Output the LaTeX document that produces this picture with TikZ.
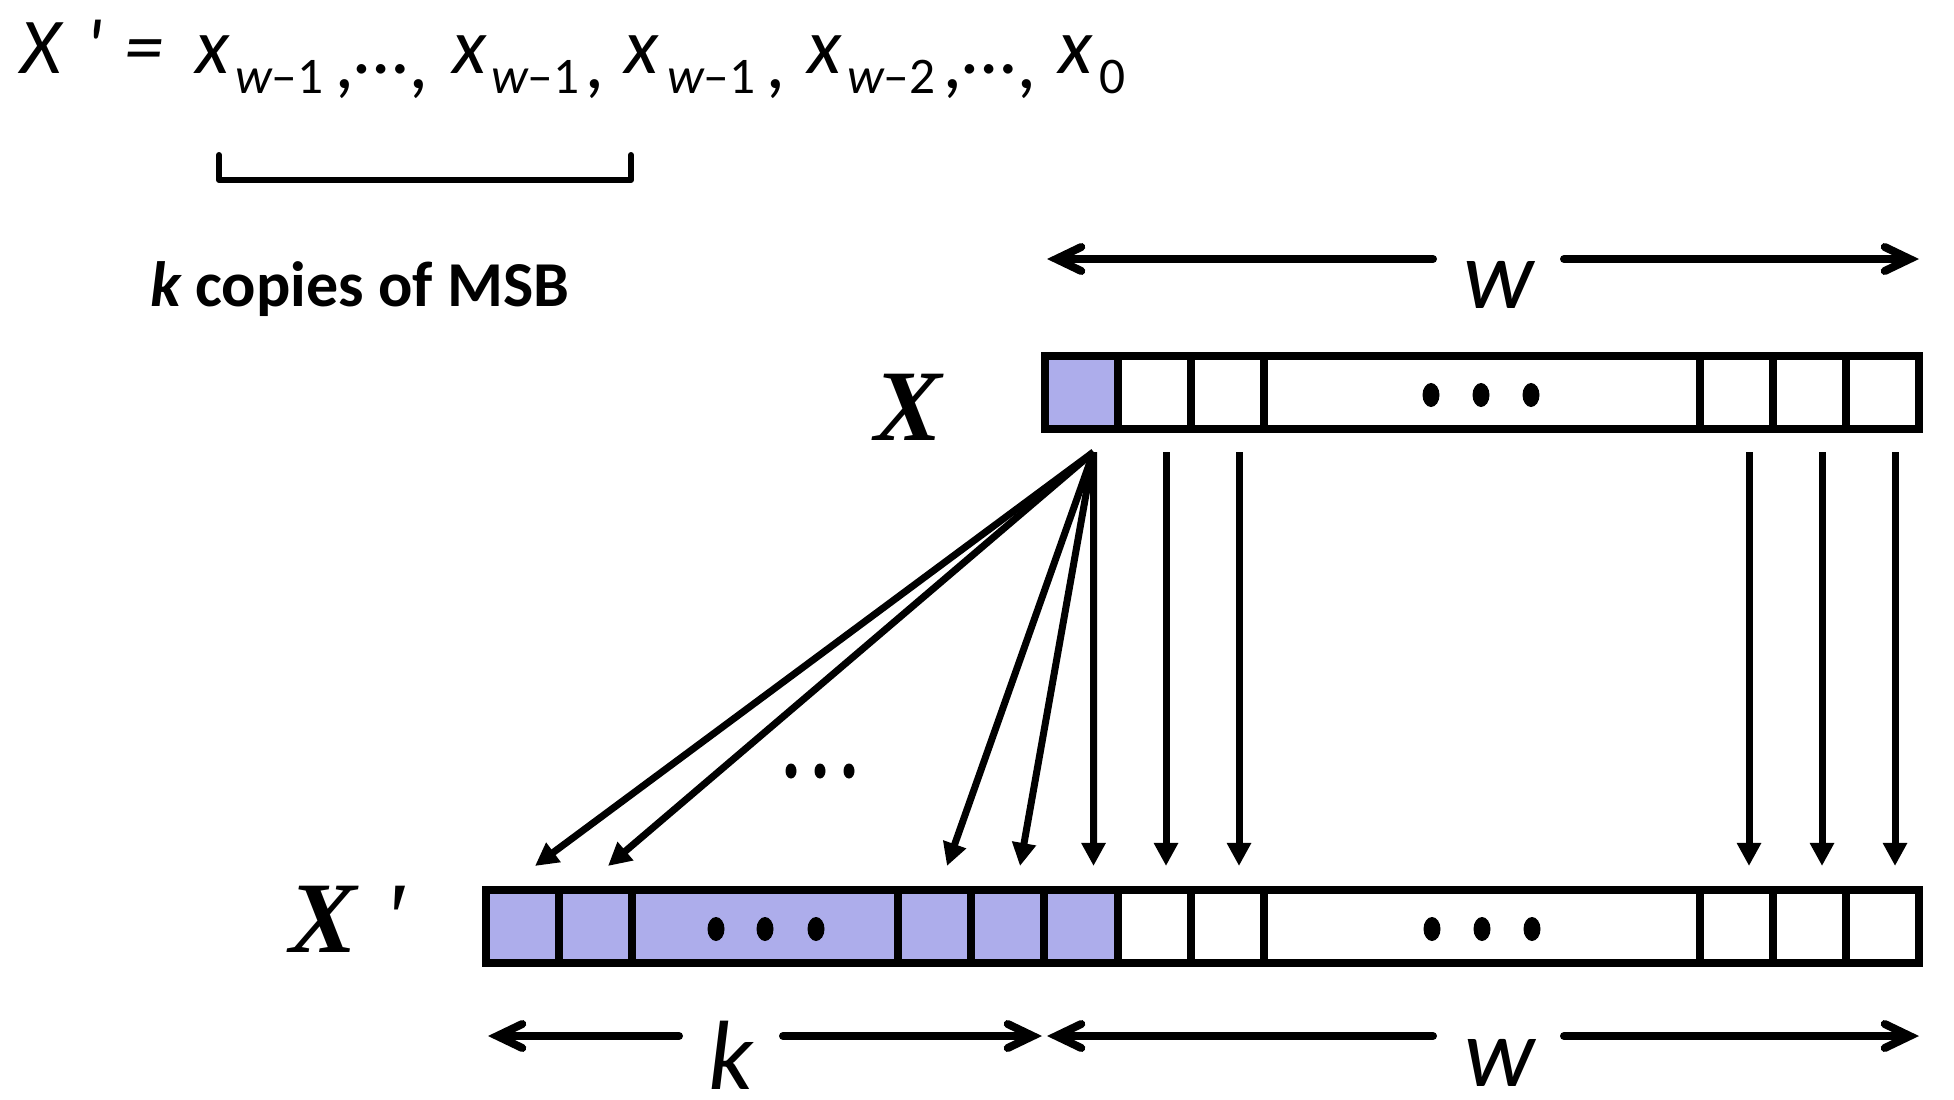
\documentclass[tikz,border=0pt]{standalone}
\usepackage{fontspec}
\setmainfont{Carlito}
\newfontfamily\timesfont{Liberation Serif}
\usetikzlibrary{arrows.meta}
\definecolor{msb}{RGB}{173,173,235}
\newcommand{\subtxt}[2]{\itshape #1\upshape #2}
\begin{document}
\begin{tikzpicture}[x=0.01cm,y=-0.01cm,
  cell/.style={draw, line width=0.08cm, minimum height=0.73cm, inner sep=0pt, outer sep=0pt},
  msbcell/.style={cell, fill=msb},
  arr/.style={line width=0.07cm, -{Triangle[length=0.23cm,width=0.23cm]}},
  dimarr/.style={line width=0.08cm, line cap=round, -{Straight Barb[length=0.25cm,width=0.24cm,line cap=round]}},
  txt/.style={anchor=base west, inner sep=0pt, outer sep=0pt},
  fm/.style={txt, font=\fontsize{22.5pt}{27pt}\selectfont\itshape},
  fs/.style={txt, font=\fontsize{14.6pt}{17pt}\selectfont},
  lab/.style={anchor=base, inner sep=0pt, outer sep=0pt, font=\fontsize{28pt}{34pt}\selectfont\itshape},
  reglab/.style={txt, font=\timesfont\fontsize{28.8pt}{34pt}\selectfont\bfseries\itshape}
]
\useasboundingbox (0,0) rectangle (1954,1100);

% ---- formula ----
\node[fm] (f1) at (21,73) {X};
\node[fm] (f2) at (85,73) {\textquotesingle};
\node[fm] (f3) at (124,73) {=};
\node[fm] (f4) at (195,73) {x};
\node[fs] (f5) at (235,93) {\subtxt{w}{–1}};
\node[fm] (f6) at (336,73) {\raisebox{-0.15cm}{,}…\raisebox{-0.15cm}{,}};
\node[fm] (f7) at (452,73) {x};
\node[fs] (f8) at (491,93) {\subtxt{w}{–1}};
\node[fm] (f9) at (586,88) {,};
\node[fm] (f10) at (624,73) {x};
\node[fs] (f11) at (667,93) {\subtxt{w}{–1}};
\node[fm] (f12) at (767,88) {,};
\node[fm] (f13) at (807,73) {x};
\node[fs] (f14) at (847,93) {\subtxt{w}{–2}};
\node[fm] (f15) at (944,73) {\raisebox{-0.15cm}{,}…\raisebox{-0.15cm}{,}};
\node[fm] (f16) at (1058,73) {x};
\node[fs] (f17) at (1099,93) {0};

% bracket
\draw[line width=0.06cm, line cap=round, line join=round] (219,155) -- (219,180) -- (631,180) -- (631,155);
\node[txt, font=\fontsize{18.2pt}{22pt}\selectfont\bfseries] (kc) at (150,306) {\itshape k\upshape{} copies of MSB};

% ---- top register ----
\node[msbcell, minimum width=0.73cm] (t0) at (1081.5,392.5) {};
\node[cell, minimum width=0.73cm] (t1) at (1154.5,392.5) {};
\node[cell, minimum width=0.73cm] (t2) at (1227.5,392.5) {};
\node[cell, minimum width=4.36cm] (tm) at (1482,392.5) {};
\node[cell, minimum width=0.73cm] (t3) at (1736.5,392.5) {};
\node[cell, minimum width=0.73cm] (t4) at (1809.5,392.5) {};
\node[cell, minimum width=0.73cm] (t5) at (1882.5,392.5) {};
\foreach \xx in {1431,1481,1531} \fill (\xx,395) ellipse [x radius=0.085cm, y radius=0.12cm];

% ---- bottom register ----
\node[msbcell, minimum width=0.73cm] (b0) at (522.5,926.5) {};
\node[msbcell, minimum width=0.73cm] (b1) at (595.5,926.5) {};
\node[msbcell, minimum width=2.66cm] (bm) at (765,926.5) {};
\node[msbcell, minimum width=0.73cm] (b3) at (934.5,926.5) {};
\node[msbcell, minimum width=0.73cm] (b4) at (1007.5,926.5) {};
\node[msbcell, minimum width=0.74cm] (b5) at (1081,926.5) {};
\node[cell, minimum width=0.73cm] (b6) at (1154.5,926.5) {};
\node[cell, minimum width=0.73cm] (b7) at (1227.5,926.5) {};
\node[cell, minimum width=4.36cm] (bw) at (1482,926.5) {};
\node[cell, minimum width=0.73cm] (b8) at (1736.5,926.5) {};
\node[cell, minimum width=0.73cm] (b9) at (1809.5,926.5) {};
\node[cell, minimum width=0.73cm] (b10) at (1882.5,926.5) {};
\foreach \xx in {716,765,816,1432,1482,1532} \fill (\xx,929) ellipse [x radius=0.085cm, y radius=0.12cm];

% register labels
\node[reglab] (xl) at (874,440) {X};
\node[reglab] (xpl) at (289,952) {X};
\node[txt, font=\timesfont\fontsize{28.8pt}{34pt}\selectfont\itshape] (xpp) at (382,952) {\textquotesingle};

% ---- fan arrows ----
\foreach \b in {b0,b1,b3,b4,b5}
  \draw[arr] ([xshift=0.12cm,yshift=-0.23cm]t0.south) -- ([xshift=0.125cm,yshift=0.24cm]\b.north);
\draw[arr] ([xshift=0.115cm,yshift=-0.23cm]t1.south) -- ([xshift=0.115cm,yshift=0.24cm]b6.north);
\draw[arr] ([xshift=0.115cm,yshift=-0.23cm]t2.south) -- ([xshift=0.115cm,yshift=0.24cm]b7.north);
\draw[arr] ([xshift=0.125cm,yshift=-0.23cm]t3.south) -- ([xshift=0.125cm,yshift=0.24cm]b8.north);
\draw[arr] ([xshift=0.125cm,yshift=-0.23cm]t4.south) -- ([xshift=0.125cm,yshift=0.24cm]b9.north);
\draw[arr] ([xshift=0.125cm,yshift=-0.23cm]t5.south) -- ([xshift=0.125cm,yshift=0.24cm]b10.north);
\foreach \xx in {791,820,849} \fill (\xx,771) ellipse [x radius=0.055cm, y radius=0.075cm];

% ---- dimension arrows ----
\node[lab] (wt) at (1499,308) {w};
\coordinate (wtl) at (1433,259); \coordinate (wtr) at (1564,259);
\coordinate (wtL) at (1047,259); \coordinate (wtR) at (1919,259);
\draw[dimarr] (wtl) -- (wtL);
\draw[dimarr] (wtr) -- (wtR);

\node[lab] (kb) at (731,1089) {k};
\coordinate (kbl) at (679,1036); \coordinate (kbr) at (783,1036);
\coordinate (kbL) at (488,1036); \coordinate (kbR) at (1042,1036);
\draw[dimarr] (kbl) -- (kbL);
\draw[dimarr] (kbr) -- (kbR);

\node[lab] (wb) at (1500,1086) {w};
\coordinate (wbl) at (1433,1036); \coordinate (wbr) at (1564,1036);
\coordinate (wbL) at (1047,1036); \coordinate (wbR) at (1919,1036);
\draw[dimarr] (wbl) -- (wbL);
\draw[dimarr] (wbr) -- (wbR);
\end{tikzpicture}
\end{document}
